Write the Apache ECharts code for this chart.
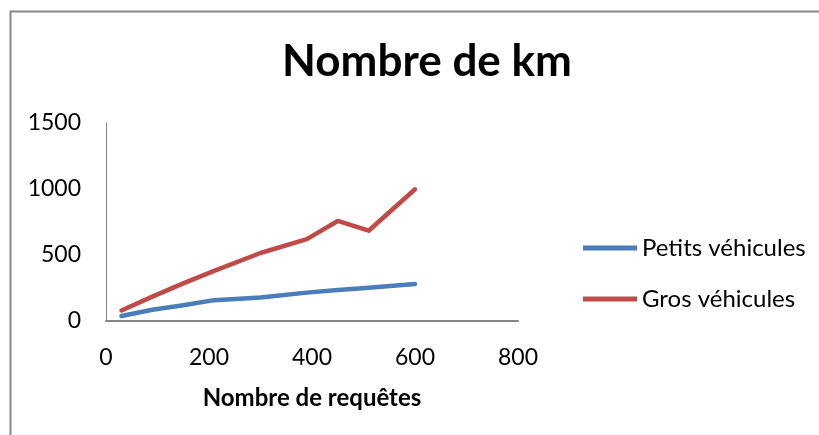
<!DOCTYPE html>
<html>
<head>
<meta charset="utf-8">
<script src="https://cdn.jsdelivr.net/npm/echarts@6/dist/echarts.min.js"></script>
<style>
  html, body { margin: 0; padding: 0; background: #fff; }
  #chart { width: 819px; height: 435px; }
</style>
</head>
<body>
<div id="chart"></div>
<script>
const requetes = [30, 90, 150, 210, 300, 390, 450, 510, 600]
const petits = [38, 85, 120, 158, 178, 215, 235, 252, 280]
const gros = [80, 185, 285, 380, 515, 620, 758, 684, 998]
const xTicks = [0, 200, 400, 600, 800]
const yTicks = [0, 500, 1000, 1500]

const pairs = ys => requetes.map((x, i) => [x, ys[i]])

const font = "Lato, 'Open Sans', sans-serif"

const option = {
  animation: false,
  textStyle: { fontFamily: font },
  graphic: [
    {
      type: "rect",
      shape: { x: 10.5, y: 11.5, width: 900, height: 500 },
      style: { fill: "none", stroke: "#8a8a8a", lineWidth: 2 },
    },
  ],
  title: {
    text: "Nombre de km",
    left: 422,
    top: 35,
    textAlign: "center",
    textStyle: { fontFamily: font, fontSize: 44, fontWeight: "bold", color: "#000" },
  },
  legend: {
    orient: "vertical",
    left: 578,
    top: 230,
    icon: "rect",
    itemWidth: 54,
    itemHeight: 5,
    itemGap: 25,
    textStyle: { fontFamily: font, fontSize: 24, color: "#000", lineHeight: 26 },
    data: ["Petits véhicules", "Gros véhicules"],
  },
  grid: { left: 106, right: 301, top: 123, bottom: 114 },
  xAxis: {
    type: "value",
    min: xTicks[0],
    max: xTicks[xTicks.length - 1],
    interval: 200,
    name: "Nombre de requêtes",
    nameLocation: "middle",
    nameGap: 65,
    nameTextStyle: { fontFamily: font, fontSize: 24, fontWeight: "bold", color: "#000" },
    axisLine: { lineStyle: { color: "#868686", width: 2 } },
    axisTick: { show: false },
    splitLine: { show: false },
    axisLabel: { fontSize: 23, color: "#000", margin: 25, fontFamily: font, formatter: v => String(v) },
  },
  yAxis: {
    type: "value",
    min: yTicks[0],
    max: yTicks[yTicks.length - 1],
    interval: 500,
    axisLine: { show: true, lineStyle: { color: "#868686", width: 1 } },
    axisTick: { show: false },
    splitLine: { show: false },
    axisLabel: { fontSize: 23, color: "#000", margin: 25, fontFamily: font, formatter: v => String(v) },
  },
  series: [
    {
      name: "Petits véhicules",
      type: "line",
      data: pairs(petits),
      showSymbol: false,
      color: "#4a7ebb",
      lineStyle: { width: 4.5, cap: "round", join: "round" },
    },
    {
      name: "Gros véhicules",
      type: "line",
      data: pairs(gros),
      showSymbol: false,
      color: "#be4b48",
      lineStyle: { width: 4.5, cap: "round", join: "round" },
    },
  ],
}

const chart = echarts.init(document.getElementById("chart"))
chart.setOption(option)
window.addEventListener("resize", () => chart.resize())
</script>
</body>
</html>
